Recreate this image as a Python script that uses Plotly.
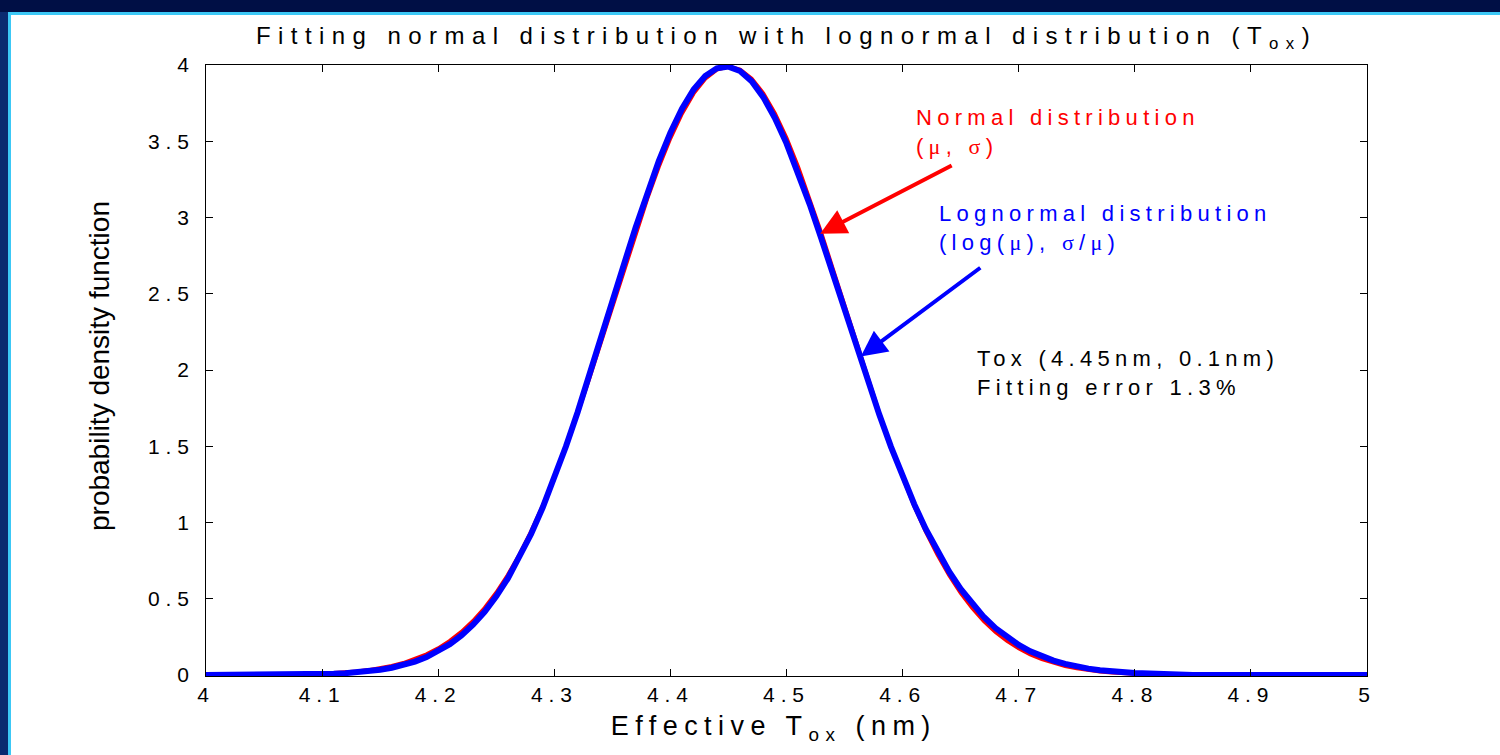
import plotly.graph_objects as go

# ---------------- data ----------------
tox_nm = [4.00, 4.05,
          4.10, 4.11, 4.12, 4.13, 4.14, 4.15, 4.16, 4.17, 4.18, 4.19,
          4.20, 4.21, 4.22, 4.23, 4.24, 4.25, 4.26, 4.27, 4.28, 4.29,
          4.30, 4.31, 4.32, 4.33, 4.34, 4.35, 4.36, 4.37, 4.38, 4.39,
          4.40, 4.41, 4.42, 4.43, 4.44, 4.45, 4.46, 4.47, 4.48, 4.49,
          4.50, 4.51, 4.52, 4.53, 4.54, 4.55, 4.56, 4.57, 4.58, 4.59,
          4.60, 4.61, 4.62, 4.63, 4.64, 4.65, 4.66, 4.67, 4.68, 4.69,
          4.70, 4.71, 4.72, 4.73, 4.74, 4.75, 4.76, 4.77, 4.78, 4.79,
          4.80, 4.85, 4.90, 4.95, 5.00]

pdf_normal = [0.0, 0.0,
              0.0087, 0.0123, 0.0172, 0.0238, 0.0327, 0.0443, 0.0595, 0.0792, 0.1042, 0.1358,
              0.1753, 0.2239, 0.2833, 0.3547, 0.4398, 0.5399, 0.6562, 0.7895, 0.9405, 1.1092,
              1.2952, 1.4973, 1.7137, 1.9419, 2.1785, 2.4197, 2.6609, 2.8969, 3.1225, 3.3322,
              3.5207, 3.6827, 3.8139, 3.9104, 3.9695, 3.9894, 3.9695, 3.9104, 3.8139, 3.6827,
              3.5207, 3.3322, 3.1225, 2.8969, 2.6609, 2.4197, 2.1785, 1.9419, 1.7137, 1.4973,
              1.2952, 1.1092, 0.9405, 0.7895, 0.6562, 0.5399, 0.4398, 0.3547, 0.2833, 0.2239,
              0.1753, 0.1358, 0.1042, 0.0792, 0.0595, 0.0443, 0.0327, 0.0238, 0.0172, 0.0123,
              0.0087, 0.0, 0.0, 0.0, 0.0]

pdf_lognormal = [0.0, 0.0,
                 0.0058, 0.0085, 0.0123, 0.0177, 0.0250, 0.0349, 0.0482, 0.0658, 0.0887, 0.1181,
                 0.1554, 0.2022, 0.2601, 0.3305, 0.4154, 0.5162, 0.6340, 0.7700, 0.9248, 1.0985,
                 1.2900, 1.4987, 1.7218, 1.9570, 2.2004, 2.4475, 2.6934, 2.9329, 3.1602, 3.3695,
                 3.5556, 3.7134, 3.8386, 3.9277, 3.9784, 3.9894, 3.9607, 3.8933, 3.7895, 3.6525,
                 3.4865, 3.2959, 3.0860, 2.8621, 2.6295, 2.3931, 2.1578, 1.9277, 1.7064, 1.4967,
                 1.3009, 1.1206, 0.9567, 0.8096, 0.6791, 0.5647, 0.4655, 0.3805, 0.3083, 0.2477,
                 0.1974, 0.1559, 0.1222, 0.0949, 0.0732, 0.0560, 0.0424, 0.0319, 0.0239, 0.0177,
                 0.0130, 0.0, 0.0, 0.0, 0.0]

x_ticks = [4.0, 4.1, 4.2, 4.3, 4.4, 4.5, 4.6, 4.7, 4.8, 4.9, 5.0]
x_tick_labels = ["4", "4.1", "4.2", "4.3", "4.4", "4.5", "4.6", "4.7", "4.8", "4.9", "5"]
y_ticks = [0, 0.5, 1, 1.5, 2, 2.5, 3, 3.5, 4]
y_tick_labels = ["0", "0.5", "1", "1.5", "2", "2.5", "3", "3.5", "4"]

# arrow tips (data coordinates) pointing at the curves
red_arrow_tip = (4.529, 2.894)
blue_arrow_tip = (4.564, 2.088)

FONT = "Arial, 'Liberation Sans', sans-serif"
SERIF = "'Liberation Serif', 'Times New Roman', serif"

fig = go.Figure()
fig.add_trace(go.Scatter(x=tox_nm, y=pdf_normal, mode="lines",
                         line=dict(color="#ff0000", width=4), name="Normal",
                         showlegend=False))
fig.add_trace(go.Scatter(x=tox_nm, y=pdf_lognormal, mode="lines",
                         line=dict(color="#0000ff", width=6), name="Lognormal",
                         showlegend=False))

W, H = 1500, 755
L, R, T, B = 206, 133, 65, 79
PW, PH = W - L - R, H - T - B
TOPBAR = 12   # navy band height at the top of the slide
CYAN = 3


def px(xp):
    return (xp - L) / PW


def py(yp):
    return (H - B - yp) / PH


mu = f'<span style="font-family:{SERIF}">μ</span>'
sg = f'<span style="font-family:{SERIF}">σ</span>'

annotations = [
    # index 0: y-axis label (no letter spacing)
    dict(text="probability density function", xref="paper", yref="paper",
         x=px(99), y=py(366), textangle=-90, showarrow=False,
         font=dict(size=28, color="black", family=FONT),
         xanchor="center", yanchor="middle"),
    dict(text="Effective T<sub>ox</sub> (nm)", xref="paper", yref="paper",
         x=px(774), y=py(728), showarrow=False,
         font=dict(size=27, color="black", family=FONT),
         xanchor="center", yanchor="middle"),
    dict(text=f"Normal distribution<br>({mu}, {sg})", xref="paper", yref="paper",
         x=px(914), y=py(132), showarrow=False, align="left",
         font=dict(size=22, color="#ff0000", family=FONT),
         xanchor="left", yanchor="middle"),
    dict(text=f"Lognormal distribution<br>(log({mu}), {sg}/{mu})", xref="paper", yref="paper",
         x=px(937), y=py(228), showarrow=False, align="left",
         font=dict(size=22, color="#0000ff", family=FONT),
         xanchor="left", yanchor="middle"),
    dict(text="Tox (4.45nm, 0.1nm)<br>Fitting error 1.3%", xref="paper", yref="paper",
         x=px(975), y=py(373), showarrow=False, align="left",
         font=dict(size=22, color="black", family=FONT),
         xanchor="left", yanchor="middle"),
    dict(text="", x=red_arrow_tip[0], y=red_arrow_tip[1], xref="x", yref="y",
         ax=133, ay=-69, showarrow=True, arrowhead=2, arrowsize=1.3,
         arrowwidth=4, arrowcolor="#ff0000", standoff=0),
    dict(text="", x=blue_arrow_tip[0], y=blue_arrow_tip[1], xref="x", yref="y",
         ax=121, ay=-90, showarrow=True, arrowhead=2, arrowsize=1.3,
         arrowwidth=4, arrowcolor="#0000ff", standoff=0),
]

# slide frame: navy paper, a white "slide" panel, cyan edge lines, bluer left strip
shapes = [
    dict(type="rect", xref="paper", yref="paper", x0=px(0), x1=px(8), y0=py(H), y1=py(TOPBAR),
         fillcolor="#0a2a70", line=dict(width=0), layer="below"),
    dict(type="rect", xref="paper", yref="paper", x0=px(8), x1=px(W), y0=py(H), y1=py(TOPBAR),
         fillcolor="#3cc8f6", line=dict(width=0), layer="below"),
    dict(type="rect", xref="paper", yref="paper", x0=px(11), x1=px(W), y0=py(H),
         y1=py(TOPBAR + CYAN),
         fillcolor="white", line=dict(width=0), layer="below"),
]

axis_common = dict(showline=True, linecolor="black", linewidth=1, mirror="ticks",
                   ticks="inside", ticklen=7, tickcolor="black", tickwidth=1,
                   showgrid=False, zeroline=False,
                   tickfont=dict(size=21, color="black", family=FONT))

fig.update_layout(
    width=W, height=H,
    margin=dict(l=L, r=R, t=T, b=B, pad=0),
    paper_bgcolor="#000f45", plot_bgcolor="white",
    title=dict(text="Fitting normal distribution with lognormal distribution (T<sub>ox</sub>)",
               x=0.5, xref="paper", xanchor="center",
               y=1 - 36 / H, yref="container", yanchor="middle",
               font=dict(size=24, color="black", family=FONT)),
    xaxis=dict(range=[4, 5], tickvals=x_ticks, ticktext=x_tick_labels,
               ticklabelstandoff=0, **axis_common),
    yaxis=dict(range=[-0.006, 4], tickvals=y_ticks, ticktext=y_tick_labels,
               ticklabelstandoff=6, **axis_common),
    annotations=annotations,
    shapes=shapes,
)

css = ('html,body{margin:0;padding:0;overflow:hidden}'
       '.js-plotly-plot .gtitle{letter-spacing:0.31em}'
       '.js-plotly-plot .xtick text,.js-plotly-plot .ytick text{letter-spacing:0.28em}'
       '.js-plotly-plot .annotation:not([data-index="0"]) .annotation-text{letter-spacing:0.24em}')
post = ("var s=document.createElement('style');s.textContent='" + css +
        "';document.head.appendChild(s);")

fig.write_html("out.html", post_script=post,
               config={"displayModeBar": False, "staticPlot": True})
